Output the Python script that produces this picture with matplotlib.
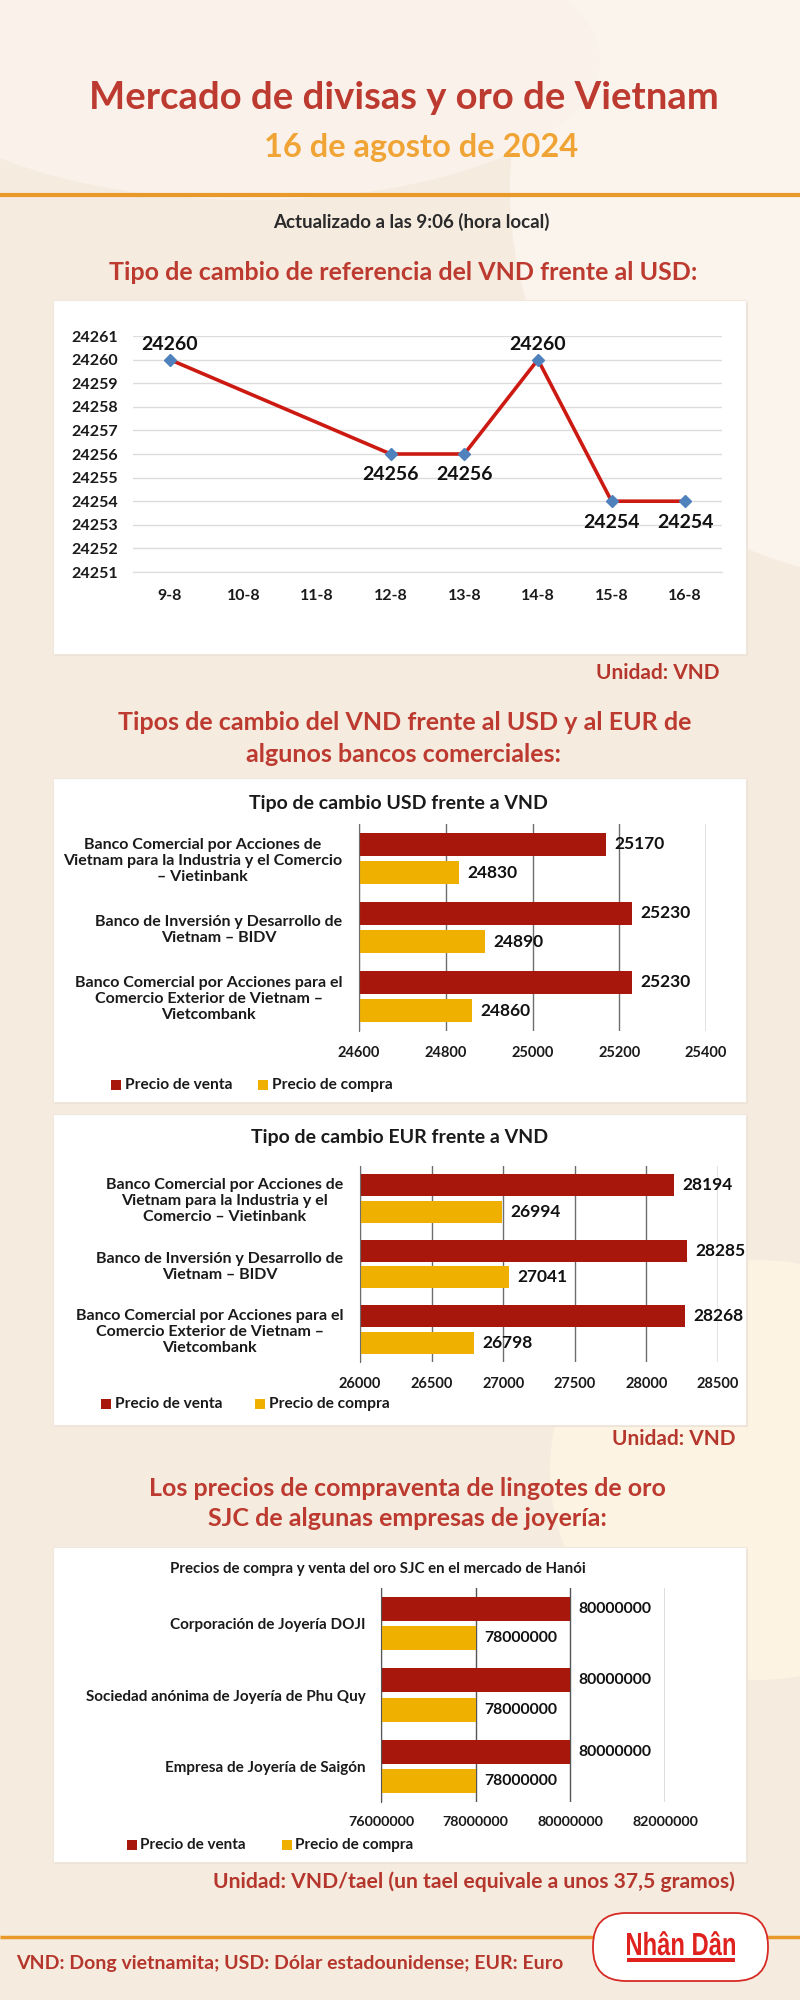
import matplotlib
matplotlib.use('Agg')
import matplotlib.pyplot as plt
from matplotlib.patches import Rectangle, FancyBboxPatch, Circle, Ellipse, PathPatch
from matplotlib.textpath import TextPath
from matplotlib.font_manager import FontProperties
import matplotlib.transforms as mtransforms
import numpy as np

plt.rcParams['font.family'] = ['Lato', 'DejaVu Sans']

# ---------------- data ----------------
ref_dates = ['9-8', '10-8', '11-8', '12-8', '13-8', '14-8', '15-8', '16-8']
ref_rates = [24260, None, None, 24256, 24256, 24260, 24254, 24254]
ref_yticks = [24251, 24252, 24253, 24254, 24255, 24256, 24257, 24258, 24259, 24260, 24261]

usd_banks = ['Banco Comercial por Acciones de\nVietnam para la Industria y el Comercio\n– Vietinbank',
             'Banco de Inversión y Desarrollo de\nVietnam – BIDV',
             'Banco Comercial por Acciones para el\nComercio Exterior de Vietnam –\nVietcombank']
usd_sell = [25170, 25230, 25230]
usd_buy = [24830, 24890, 24860]
usd_xticks = [24600, 24800, 25000, 25200, 25400]

eur_banks = ['Banco Comercial por Acciones de\nVietnam para la Industria y el\nComercio – Vietinbank',
             'Banco de Inversión y Desarrollo de\nVietnam – BIDV',
             'Banco Comercial por Acciones para el\nComercio Exterior de Vietnam –\nVietcombank']
eur_sell = [28194, 28285, 28268]
eur_buy = [26994, 27041, 26798]
eur_xticks = [26000, 26500, 27000, 27500, 28000, 28500]

gold_companies = ['Corporación de Joyería DOJI',
                  'Sociedad anónima de Joyería de Phu Quy',
                  'Empresa de Joyería de Saigón']
gold_sell = [80000000, 80000000, 80000000]
gold_buy = [78000000, 78000000, 78000000]
gold_xticks = [76000000, 78000000, 80000000, 82000000]

series_names = ['Precio de venta', 'Precio de compra']

# ---------------- style ----------------
SELL = '#A8170C'
BUY = '#EFB000'
RED_T = '#BC3A2F'
ORANGE = '#E9982A'
BGC = '#F6EBDF'
W, H = 800, 2000

fig = plt.figure(figsize=(8, 20), dpi=100)
fig.patch.set_facecolor(BGC)
bg = fig.add_axes([0, 0, 1, 1])
bg.set_xlim(0, W)
bg.set_ylim(H, 0)
bg.axis('off')
bg.set_zorder(0)

# decorative background shapes
bg.add_patch(Circle((900, 190), 390, color='#FBF4EC', zorder=0, lw=0))
bg.add_patch(Ellipse((250, 60), 700, 280, color='#FAF2EA', zorder=0, lw=0))
bg.add_patch(Ellipse((760, 1470), 420, 420, color='#FCF3E2', zorder=0, lw=0))


def ax_at(x0, y0, x1, y1):
    return fig.add_axes([x0 / W, 1 - y1 / H, (x1 - x0) / W, (y1 - y0) / H])


def panel(x0, y0, x1, y1):
    bg.add_patch(Rectangle((x0 + 2, y0 + 2), x1 - x0, y1 - y0, color='#EDE2D6', zorder=1, lw=0))
    bg.add_patch(Rectangle((x0, y0), x1 - x0, y1 - y0, facecolor='white', edgecolor='#F0E8DE', lw=0.8, zorder=2))


# ---------------- header ----------------
bg.text(404, 98, 'Mercado de divisas y oro de Vietnam', ha='center', va='center',
        fontsize=27.5, fontweight='bold', color=RED_T, zorder=5)
bg.text(421, 147, '16 de agosto de 2024', ha='center', va='center',
        fontsize=23.5, fontweight='bold', color='#F0A436', zorder=5)
bg.plot([0, 800], [195, 195], color=ORANGE, lw=3, zorder=5, solid_capstyle='butt')
bg.text(411, 222, 'Actualizado a las 9:06 (hora local)', ha='center', va='center',
        fontsize=13.5, fontweight='bold', color='#2B2B2B', zorder=5)

# ---------------- section 1 ----------------
bg.text(403, 272, 'Tipo de cambio de referencia del VND frente al USD:', ha='center', va='center',
        fontsize=18, fontweight='bold', color=RED_T, zorder=5)
panel(53, 300, 746, 654)
ax1 = ax_at(133, 336, 722, 572)
ax1.set_facecolor('none')
ax1.set_xlim(-0.5, 7.5)
ax1.set_ylim(ref_yticks[0], ref_yticks[-1])
ax1.set_yticks(ref_yticks)
ax1.set_yticklabels([str(v) for v in ref_yticks], fontsize=11.5, fontweight='bold', color='#1A1A1A')
ax1.set_xticks(range(len(ref_dates)))
ax1.set_xticklabels(ref_dates, fontsize=11.5, fontweight='bold', color='#1A1A1A')
ax1.tick_params(axis='y', length=0, pad=11)
ax1.tick_params(axis='x', length=0, pad=12)
ax1.grid(axis='y', color='#DCDCDC', lw=1)
for s in ['top', 'right', 'left']:
    ax1.spines[s].set_visible(False)
ax1.spines['bottom'].set_color('#DCDCDC')
xs = [i for i, v in enumerate(ref_rates) if v is not None]
ys = [v for v in ref_rates if v is not None]
ax1.plot(xs, ys, color='#CC1A12', lw=2.6, zorder=3, clip_on=False)
ax1.plot(xs, ys, ls='none', marker='D', ms=6, color='#4F81BD', zorder=4, clip_on=False)
top_val = max(ys)
for x, y in zip(xs, ys):
    off = 11 if y >= top_val else -15
    ax1.annotate(str(y), (x, y), xytext=(0, off), textcoords='offset points',
                 ha='center', va='center', fontsize=14, fontweight='bold', color='#111111',
                 annotation_clip=False)
bg.text(719, 673, 'Unidad: VND', ha='right', va='center', fontsize=15,
        fontweight='bold', color='#B5362C', zorder=5)


# ---------------- bar chart helper ----------------
def hbar(rect, cats, sell, buy, xticks, xlim, title, title_xy, title_fs, cat_fs, tick_fs,
         lab_fs, leg_fs, gridcolor, ypad, xpad, legend_y, legend_x):
    ax = ax_at(*rect)
    ax.set_facecolor('none')
    ax.set_zorder(3)
    y = np.arange(len(cats))
    b1 = ax.barh(y - 0.205, sell, height=0.335, color=SELL, zorder=2)
    b2 = ax.barh(y + 0.205, buy, height=0.335, color=BUY, zorder=2)
    ax.set_xlim(*xlim)
    ax.set_ylim(len(cats) - 0.5, -0.5)
    ax.set_xticks(xticks)
    ax.set_xticklabels([str(v) for v in xticks], fontsize=tick_fs, fontweight='bold', color='#1A1A1A')
    ax.set_yticks(y)
    ax.set_yticklabels(cats, fontsize=cat_fs, fontweight='bold', color='#1A1A1A',
                       multialignment='center', linespacing=1.2)
    ax.tick_params(axis='y', length=0, pad=ypad)
    ax.tick_params(axis='x', length=0, pad=xpad)
    ax.grid(axis='x', color=gridcolor, lw=1)
    ax.set_axisbelow(True)
    for s in ['top', 'right', 'bottom']:
        ax.spines[s].set_visible(False)
    ax.spines['left'].set_color(gridcolor)
    ax.bar_label(b1, labels=[str(v) for v in sell], padding=6, fontsize=lab_fs,
                 fontweight='bold', color='#111111', clip_on=False)
    ax.bar_label(b2, labels=[str(v) for v in buy], padding=6, fontsize=lab_fs,
                 fontweight='bold', color='#111111', clip_on=False)
    bg.text(title_xy[0], title_xy[1], title, ha='center', va='center', fontsize=title_fs,
            fontweight='bold', color='#1A1A1A', zorder=5)
    for (lx, tx), name, col in zip(legend_x, series_names, [SELL, BUY]):
        bg.add_patch(Rectangle((lx, legend_y - 5), 10, 10, color=col, zorder=5, lw=0))
        bg.text(tx, legend_y, name, ha='left', va='center', fontsize=leg_fs,
                fontweight='bold', color='#1A1A1A', zorder=5)
    return ax


# ---------------- section 2 ----------------
bg.text(405, 723, 'Tipos de cambio del VND frente al USD y al EUR de', ha='center', va='center',
        fontsize=18, fontweight='bold', color=RED_T, zorder=5)
bg.text(404, 755, 'algunos bancos comerciales:', ha='center', va='center',
        fontsize=18, fontweight='bold', color=RED_T, zorder=5)

panel(53, 778, 746, 1102)
hbar((359, 824, 706, 1031), usd_banks, usd_sell, usd_buy, usd_xticks, (24600, 25400),
     'Tipo de cambio USD frente a VND', (398, 803), 14, 11.5, 10.5, 12.5, 11.2, '#6E6E6E',
     12, 11, 1085, [(111, 125), (258, 272)])

panel(53, 1114, 746, 1425)
hbar((360, 1166, 718, 1362), eur_banks, eur_sell, eur_buy, eur_xticks, (26000, 28500),
     'Tipo de cambio EUR frente a VND', (400, 1138), 14, 11.5, 10.5, 12.5, 11.2, '#6E6E6E',
     12, 11, 1404, [(101, 115), (255, 269)])

bg.text(736, 1439, 'Unidad: VND', ha='right', va='center', fontsize=15,
        fontweight='bold', color='#B5362C', zorder=5)

# ---------------- section 3 ----------------
bg.text(407, 1488, 'Los precios de compraventa de lingotes de oro', ha='center', va='center',
        fontsize=18, fontweight='bold', color=RED_T, zorder=5)
bg.text(407, 1519, 'SJC de algunas empresas de joyería:', ha='center', va='center',
        fontsize=18, fontweight='bold', color=RED_T, zorder=5)

panel(53, 1547, 746, 1862)
hbar((381, 1588, 665, 1802), gold_companies, gold_sell, gold_buy, gold_xticks, (76000000, 82000000),
     'Precios de compra y venta del oro SJC en el mercado de Hanói', (378, 1569), 10.8, 11, 10.3, 11.3, 11,
     '#555555', 11, 10, 1845, [(127, 140), (282, 295)])

bg.text(735, 1882, 'Unidad: VND/tael (un tael equivale a unos 37,5 gramos)', ha='right', va='center',
        fontsize=15.2, fontweight='bold', color='#B5362C', zorder=5)

# ---------------- footer ----------------
bg.plot([0, 800], [1937, 1937], color=ORANGE, lw=2.5, zorder=4, solid_capstyle='butt')
bg.text(16, 1963, 'VND: Dong vietnamita; USD: Dólar estadounidense; EUR: Euro', ha='left', va='center',
        fontsize=14, fontweight='bold', color='#B5362C', zorder=5)
bg.add_patch(FancyBboxPatch((593, 1913), 175, 68, boxstyle='round,pad=0,rounding_size=33',
                            facecolor='white', edgecolor='#D62B25', lw=1.3, zorder=6))
# condensed logo lettering
tp = TextPath((0, 0), 'Nhân Dân', size=1, prop=FontProperties(family='Liberation Sans', weight='bold'))
ext = tp.get_extents()
sx = 108 / ext.width
sy = 23 / 0.72
tr = mtransforms.Affine2D().scale(sx, -sy).translate(627 - ext.x0 * sx, 1955)
bg.add_patch(PathPatch(tr.transform_path(tp), facecolor='#E0221E', edgecolor='none', zorder=7))
bg.add_patch(Rectangle((627, 1958), 108, 3.5, color='#E0221E', zorder=7, lw=0))

fig.savefig('out.png', dpi=100, facecolor=fig.get_facecolor())
